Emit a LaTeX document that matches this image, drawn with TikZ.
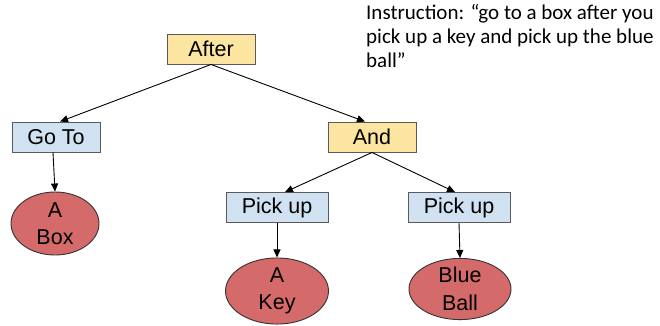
\documentclass[tikz,border=0pt]{standalone}
\usepackage{fontspec}
\setmainfont{Liberation Sans}
\newfontfamily\notefont{Carlito}
\usetikzlibrary{arrows.meta,shapes.geometric}
\definecolor{opyellow}{HTML}{FCE5A0}
\definecolor{opblue}{HTML}{D0E1F2}
\definecolor{objred}{HTML}{D46A69}
\definecolor{edgegray}{HTML}{5A5A5A}
\tikzset{
  opbox/.style={draw=edgegray, line width=0.9pt, minimum height=30pt,
    inner sep=0pt, font=\fontsize{21.5}{24}\selectfont},
  andbox/.style={opbox, fill=opyellow, minimum width=88pt},
  actbox/.style={opbox, fill=opblue},
  objnode/.style={ellipse, draw=black!80, line width=0.9pt, fill=objred,
    inner sep=0pt, align=center, font=\fontsize{21.5}{27.5}\selectfont},
  link/.style={-{Triangle[length=8pt,width=7pt]}, line width=0.9pt, black}
}
\begin{document}
\begin{tikzpicture}[x=1pt,y=-1pt]
  \useasboundingbox (0,0) rectangle (660,325);

  % instruction text
  \node[anchor=north west, align=left, inner sep=0pt,
        font=\notefont\fontsize{21}{24}\selectfont] (instr) at (366,4)
    {Instruction: “go to a box after you\\pick up a key and pick up the blue\\ball”};

  % operator nodes
  \node[andbox] (after) at (211,49) {After};
  \node[actbox, minimum width=88pt] (goto) at (56,137) {Go To};
  \node[andbox] (and) at (372,137) {And};
  \node[actbox, minimum width=102pt] (pick1) at (277,207.5) {Pick up};
  \node[actbox, minimum width=102pt] (pick2) at (459,207.5) {Pick up};

  % object nodes
  \node[objnode, minimum width=88pt, minimum height=63pt] (box) at (55,223.5) {A\\Box};
  \node[objnode, minimum width=103pt, minimum height=62pt] (key) at (277,291) {A\\Key};
  \node[objnode, minimum width=102pt, minimum height=60pt] (ball) at (460,289) {Blue\\Ball};

  % connectors
  \draw[link] (after.south) -- ([xshift=4pt]goto.north);
  \draw[link] (after.south) -- ([xshift=-7pt]and.north);
  \draw[link] ([xshift=-3pt]goto.south) -- (box.north);
  \draw[link] (and.south) -- ([xshift=8pt]pick1.north);
  \draw[link] (and.south) -- ([xshift=-4pt]pick2.north);
  \draw[link] (pick1.south) -- (key.north);
  \draw[link] (pick2.south) -- (ball.north);
\end{tikzpicture}
\end{document}
